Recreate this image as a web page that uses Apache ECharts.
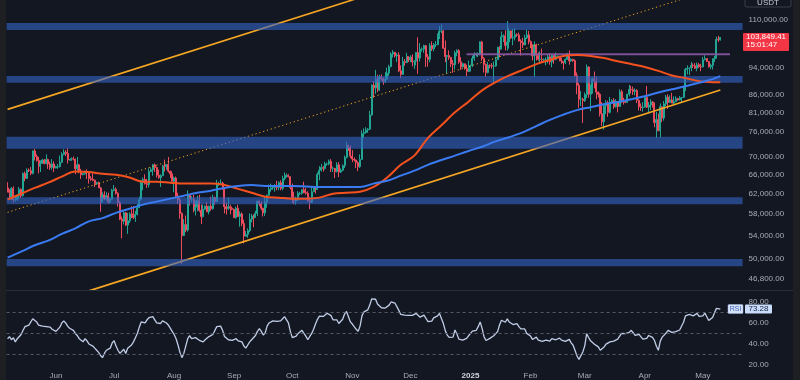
<!DOCTYPE html>
<html><head><meta charset="utf-8">
<script src="https://cdn.jsdelivr.net/npm/echarts@6/dist/echarts.min.js"></script>
<style>html,body{margin:0;padding:0;background:#131722;}#c{width:800px;height:380px;}</style>
</head><body><div id="c"></div>
<script>
// ---------- DATA (prices in thousands of USDT, daily candles from 2024-05-07) ----------
const firstDay = '2024-05-07';
const dayCount = 380; // axis days incl. empty right margin

const opens = [
63.2,62.3,61.2,63.1,60.8,60.8,61.5,62.9,61.6,66.3,65.2,67.0,66.9,66.3,71.4,70.1,69.2,67.9,68.5,69.3,68.5,69.4,68.4,67.6,68.4,
67.5,67.8,67.8,68.8,70.6,71.1,70.8,69.3,69.3,69.6,69.5,67.3,68.2,66.8,66.0,66.2,66.6,66.5,65.2,65.0,64.8,64.1,64.3,63.2,60.3,61.8,60.9,61.6,60.3,60.9,
62.7,62.9,62.1,60.2,57.0,56.6,58.2,55.9,56.7,58.0,57.7,57.3,57.9,59.2,60.8,64.7,65.0,64.1,63.9,66.7,67.1,68.2,67.6,65.9,65.4,65.8,67.9,67.8,68.3,66.8,66.2,
64.6,65.3,61.5,60.7,58.1,54.0,56.0,55.0,61.7,60.9,60.9,58.7,59.3,60.6,58.7,57.5,58.9,59.5,58.4,59.5,59.0,61.2,60.4,64.1,64.2,64.2,62.9,59.4,59.0,59.4,59.1,
58.9,57.3,59.1,57.5,58.0,56.2,53.9,54.2,54.9,57.0,57.6,57.3,58.1,60.5,60.0,59.1,58.2,60.3,61.7,62.9,63.2,63.3,63.6,63.3,64.3,63.1,65.2,65.8,65.9,65.6,
63.3,60.8,60.6,60.8,62.1,62.1,62.8,62.2,62.1,60.6,60.3,62.4,63.2,62.9,66.1,67.0,67.6,67.4,68.4,68.4,69.0,67.4,67.4,66.7,68.2,66.6,67.0,68.0,69.9,72.7,72.3,
70.2,69.5,69.3,68.7,67.8,69.4,75.6,75.9,76.5,76.7,80.4,88.7,87.9,90.5,87.3,91.1,90.6,89.8,90.5,92.3,94.3,98.3,98.9,97.7,98.0,93.0,91.9,95.9,95.6,97.5,
96.4,97.3,95.8,96.0,98.8,97.0,99.9,99.9,101.1,97.4,96.6,101.1,100.0,101.4,101.4,104.5,106.0,106.1,100.2,97.5,97.8,97.2,95.2,94.9,98.7,99.4,95.8,94.2,95.2,93.7,92.8,
93.6,94.6,96.9,98.1,98.2,98.3,102.3,96.9,95.0,92.5,94.7,94.6,94.5,94.5,96.5,100.5,99.9,104.1,104.4,101.1,102.3,106.1,103.7,103.9,104.8,104.7,102.6,102.1,101.3,103.7,104.7,
102.4,100.6,97.7,101.4,97.9,96.6,96.6,96.5,96.5,96.5,97.4,95.8,97.9,96.6,97.5,97.6,96.1,95.8,95.5,96.6,98.3,96.1,96.6,96.2,91.6,88.7,84.7,84.7,
84.3,86.0,94.2,86.1,87.2,90.6,89.9,86.7,86.1,80.7,78.6,82.9,83.7,81.1,83.9,84.3,82.6,84.0,82.7,86.8,84.2,84.0,83.8,86.1,87.5,87.4,86.9,87.2,84.4,82.6,82.4,
82.5,85.2,82.5,83.1,83.9,83.5,78.4,79.2,76.3,82.6,79.6,83.4,85.3,83.8,84.5,83.6,84.0,84.9,84.5,85.1,85.2,87.5,93.4,93.7,93.9,94.7,94.6,93.8,94.9,94.3,
94.2,96.5,96.9,95.9,94.3,94.7,96.8,97.0,103.2,103.0];

const highs = [
64.4,62.9,63.4,63.5,61.5,61.8,63.4,63.1,66.5,66.7,67.4,67.4,67.7,71.5,71.9,70.6,70.0,69.2,69.6,69.5,70.6,69.6,68.9,69.5,69.0,
68.0,68.4,70.3,71.1,71.8,71.6,72.0,69.5,69.9,70.1,69.6,70.0,68.4,67.3,66.4,66.9,67.2,66.6,65.7,66.4,65.0,64.5,64.5,63.4,62.3,62.5,62.3,62.2,61.2,63.0,
63.8,63.3,62.3,60.5,57.5,58.5,58.4,58.2,58.3,59.5,59.5,58.6,59.9,61.4,64.9,65.4,66.1,65.1,67.4,67.6,68.4,68.5,67.8,67.1,66.1,68.2,69.4,68.3,70.0,66.9,66.8,
65.6,65.6,62.2,61.1,58.3,57.0,57.7,62.7,61.8,61.5,61.8,60.7,61.6,61.8,59.8,59.8,59.6,60.3,59.6,61.4,61.8,61.4,64.9,64.5,65.0,64.5,63.2,60.2,61.2,59.8,59.4,
59.0,59.4,59.8,58.5,58.3,56.9,54.8,55.3,58.1,58.0,57.9,58.6,60.6,60.6,60.4,59.2,61.4,61.8,63.9,64.1,63.6,64.0,64.7,64.6,64.8,65.8,66.5,66.3,66.1,65.6,
64.1,62.4,61.4,62.5,62.4,62.9,64.5,63.2,62.5,61.3,63.4,63.5,63.3,66.5,67.9,68.4,67.9,68.9,68.7,69.4,69.5,67.8,67.5,68.8,68.8,67.4,68.3,70.3,73.6,72.9,72.7,
71.6,69.9,69.4,69.0,70.6,76.4,76.9,77.2,77.0,81.5,89.0,89.9,93.3,91.8,91.8,91.9,91.0,92.6,94.0,94.9,98.9,99.6,98.9,98.6,98.9,94.7,97.4,96.7,98.7,97.5,
97.9,98.2,96.3,99.0,103.9,101.9,100.5,101.4,101.2,98.3,101.9,102.5,101.9,102.6,105.2,107.8,108.4,106.5,102.8,98.0,99.5,97.4,96.4,99.4,99.9,99.9,97.3,95.5,95.2,94.9,96.2,
94.9,97.8,98.9,98.7,98.8,102.5,102.7,97.3,95.3,95.8,95.0,95.4,95.9,97.4,100.7,100.9,105.9,104.9,106.3,109.6,107.2,106.3,106.8,107.1,105.3,105.5,103.2,103.7,104.8,106.5,106.1,
102.8,101.5,102.5,101.7,98.8,99.2,100.1,96.9,97.3,98.3,98.5,98.1,98.0,98.8,97.9,97.7,97.0,96.0,96.9,98.7,99.5,96.9,96.8,96.6,92.5,89.3,87.0,85.1,
86.6,95.0,94.4,88.9,91.0,92.8,91.2,86.9,86.5,83.9,83.6,84.4,84.3,85.3,84.7,85.0,84.7,84.0,87.5,87.4,85.1,84.5,86.2,88.8,88.5,88.3,87.8,87.5,84.6,83.5,83.9,
85.5,88.5,83.9,84.7,84.2,83.8,81.2,80.8,83.5,82.7,84.2,85.9,86.1,85.8,86.5,85.5,85.5,85.1,85.6,85.3,88.5,93.9,94.7,94.0,95.8,95.3,95.4,95.6,95.5,95.2,
97.4,97.9,96.9,96.0,95.2,96.9,97.7,104.1,104.4,104.0];

const lows = [
62.3,60.9,60.7,60.2,60.4,60.6,60.9,61.1,61.4,64.6,65.1,66.6,65.9,66.1,69.2,68.9,66.3,66.6,68.5,68.3,68.3,67.3,67.1,67.1,66.6,
67.4,67.3,67.6,68.6,70.4,70.2,68.5,69.2,69.1,69.2,66.1,66.9,66.3,65.1,65.9,66.0,65.1,64.1,64.7,64.6,63.4,63.9,63.2,58.4,60.3,60.7,60.6,60.0,60.2,60.7,
62.5,61.8,59.4,56.8,53.5,56.0,55.7,54.3,56.3,57.2,57.0,56.5,57.7,59.2,60.6,62.7,63.9,63.2,63.3,66.6,65.8,66.6,65.4,65.1,63.4,65.8,66.7,67.1,66.5,65.3,64.5,
62.3,61.1,59.9,57.1,49.1,53.9,54.6,54.7,59.6,60.3,58.3,57.7,58.5,58.4,56.1,57.3,58.8,58.4,57.9,58.6,58.8,59.8,60.4,63.6,63.8,62.8,58.1,57.9,58.8,57.9,58.7,
57.2,57.1,57.4,55.6,55.7,52.6,53.8,53.6,54.6,56.4,55.5,57.3,57.6,59.5,58.7,57.5,57.6,59.2,61.6,62.4,62.8,62.4,62.7,62.7,62.7,62.7,64.8,65.4,65.4,62.9,
60.1,59.9,59.8,60.5,61.7,61.8,62.1,61.8,60.3,58.9,60.1,62.4,62.0,62.8,64.8,66.7,66.7,67.1,68.0,68.1,66.6,66.6,65.3,66.5,65.5,66.4,66.8,67.5,69.7,71.4,69.7,
68.8,69.0,67.5,66.8,67.5,69.4,74.5,75.6,75.8,76.5,80.2,85.1,86.2,86.7,87.1,90.1,88.8,89.4,90.2,91.5,94.1,97.2,97.2,95.8,92.6,90.8,91.8,94.6,95.4,95.7,
95.7,94.4,93.6,94.7,92.1,95.9,99.1,98.7,94.2,94.3,95.7,99.3,99.2,100.6,101.2,103.3,105.3,100.0,95.7,92.2,96.4,94.2,92.4,93.4,97.6,95.2,93.3,94.0,93.3,91.4,92.6,
92.8,94.2,96.1,97.5,97.3,97.9,96.1,92.5,91.2,92.2,93.8,93.7,89.3,94.3,96.5,97.3,99.9,102.3,99.5,99.4,100.1,103.3,101.2,102.8,104.1,102.5,97.8,100.3,101.3,103.3,101.5,
100.3,96.2,91.2,96.2,96.2,95.7,95.7,95.7,94.7,95.3,94.9,94.1,95.2,96.3,97.2,96.0,95.2,93.4,95.1,96.4,94.9,95.9,95.8,91.2,86.1,82.3,82.8,78.3,
83.9,85.0,85.1,81.4,86.3,87.8,84.7,85.2,80.0,77.5,76.6,80.6,79.9,80.8,83.6,82.0,82.4,81.1,82.6,83.6,83.2,83.6,83.7,85.5,86.3,85.9,85.8,83.6,81.6,81.5,81.3,
82.4,82.3,81.2,81.7,82.4,77.2,74.5,76.2,74.6,78.5,78.9,82.8,82.0,83.7,83.6,83.1,83.9,84.3,84.3,83.9,85.1,87.0,91.9,91.7,92.9,93.9,93.6,92.9,93.9,92.9,
94.1,96.3,95.7,94.0,93.5,93.4,95.8,96.9,102.3,102.8];

const closes = [
62.3,61.2,63.1,60.8,60.8,61.5,62.9,61.6,66.3,65.2,67.0,66.9,66.3,71.4,70.1,69.2,67.9,68.5,69.3,68.5,69.4,68.4,67.6,68.4,67.5,
67.8,67.8,68.8,70.6,71.1,70.8,69.3,69.3,69.6,69.5,67.3,68.2,66.8,66.0,66.2,66.6,66.5,65.2,65.0,64.8,64.1,64.3,63.2,60.3,61.8,60.9,61.6,60.3,60.9,62.7,
62.9,62.1,60.2,57.0,56.6,58.2,55.9,56.7,58.0,57.7,57.3,57.9,59.2,60.8,64.7,65.0,64.1,63.9,66.7,67.1,68.2,67.6,65.9,65.4,65.8,67.9,67.8,68.3,66.8,66.2,64.6,
65.3,61.5,60.7,58.1,54.0,56.0,55.0,61.7,60.9,60.9,58.7,59.3,60.6,58.7,57.5,58.9,59.5,58.4,59.5,59.0,61.2,60.4,64.1,64.2,64.2,62.9,59.4,59.0,59.4,59.1,58.9,
57.3,59.1,57.5,58.0,56.2,53.9,54.2,54.9,57.0,57.6,57.3,58.1,60.5,60.0,59.1,58.2,60.3,61.7,62.9,63.2,63.3,63.6,63.3,64.3,63.1,65.2,65.8,65.9,65.6,63.3,
60.8,60.6,60.8,62.1,62.1,62.8,62.2,62.1,60.6,60.3,62.4,63.2,62.9,66.1,67.0,67.6,67.4,68.4,68.4,69.0,67.4,67.4,66.7,68.2,66.6,67.0,68.0,69.9,72.7,72.3,70.2,
69.5,69.3,68.7,67.8,69.4,75.6,75.9,76.5,76.7,80.4,88.7,87.9,90.5,87.3,91.1,90.6,89.8,90.5,92.3,94.3,98.3,98.9,97.7,98.0,93.0,91.9,95.9,95.6,97.5,96.4,
97.3,95.8,96.0,98.8,97.0,99.9,99.9,101.1,97.4,96.6,101.1,100.0,101.4,101.4,104.5,106.0,106.1,100.2,97.5,97.8,97.2,95.2,94.9,98.7,99.4,95.8,94.2,95.2,93.7,92.8,93.6,
94.6,96.9,98.1,98.2,98.3,102.3,96.9,95.0,92.5,94.7,94.6,94.5,94.5,96.5,100.5,99.9,104.1,104.4,101.1,102.3,106.1,103.7,103.9,104.8,104.7,102.6,102.1,101.3,103.7,104.7,102.4,
100.6,97.7,101.4,97.9,96.6,96.6,96.5,96.5,96.5,97.4,95.8,97.9,96.6,97.5,97.6,96.1,95.8,95.5,96.6,98.3,96.1,96.6,96.2,91.6,88.7,84.7,84.7,84.3,
86.0,94.2,86.1,87.2,90.6,89.9,86.7,86.1,80.7,78.6,82.9,83.7,81.1,83.9,84.3,82.6,84.0,82.7,86.8,84.2,84.0,83.8,86.1,87.5,87.4,86.9,87.2,84.4,82.6,82.4,82.5,
85.2,82.5,83.1,83.9,83.5,78.4,79.2,76.3,82.6,79.6,83.4,85.3,83.8,84.5,83.6,84.0,84.9,84.5,85.1,85.2,87.5,93.4,93.7,93.9,94.7,94.6,93.8,94.9,94.3,94.2,
96.5,96.9,95.9,94.3,94.7,96.8,97.0,103.2,103.0,103.84941];

// moving averages, read once per week (every 7th day from the first candle; last value = last candle)
const ma100Weekly = [60.8,62.0,63.2,64.3,65.6,66.7,66.6,66.2,66.0,65.4,64.5,64.5,64.3,64.1,64.1,64.1,63.8,63.0,62.2,61.4,61.2,61.0,61.0,61.2,62.0,62.2,62.4,63.4,65.4,68.2,70.3,74.5,77.7,81.1,84.0,87.2,89.6,91.6,93.3,95.1,96.4,97.7,98.0,97.7,97.0,96.0,95.1,94.2,93.0,91.6,90.8,89.9,89.6,89.6];
const ma200Weekly = [50.2,51.2,52.3,53.1,54.3,55.3,56.6,57.2,58.2,59.0,59.8,60.4,61.0,61.6,62.2,62.6,63.2,63.6,63.8,63.6,63.6,63.6,63.5,63.4,63.4,63.4,63.4,64.1,64.7,65.8,66.9,68.2,69.3,70.3,71.4,72.4,73.7,74.7,75.9,77.5,79.1,80.5,81.7,82.5,83.3,83.9,84.7,85.5,86.6,87.5,88.4,89.4,90.5,91.4];

// RSI(14), one value per candle
const rsi = [
45,47,44,46,42,45,44,49,53,56.5, 55,58,59,64,63,61,58,58.5,57,58.5,
56.5,55,56,54,53,52,53,56,60,62, 60,57,55,56,53,50,48,45,44,42,
45,43,40,39.5,38,36,34,32,29,27, 31,34,32.5,36,41,43,38,34,31,32,
35,31,36,36,39,42,46,50,56,61, 62,60,63,65,66,66,63,60,61,59.5,
62,62,60,58,55,52,49,45,39,32, 27,31,38,45,48,45,44,46,45,43.5,
44,42,44,45.5,47,46.5,49,50.5,56.5,58, 57,53,47,46,44,45,43.5,43,45,43,
44,42,38,36,39,42,44,45,48,52, 54.5,52,48.5,50.5,57,60,61,62,62.3,61.5,
62.5,62,64,66,65.5,60,52,46,45.3,47.5, 50,51.7,53,50,47.5,44,45,50,54,59,
63.5,66.5,67.5,66.2,67,69.2,69,67,63,61.5, 63,59.5,59.5,63.5,68.5,71,66,61,59,57.5,
54,52,57,67,70.5,71,72.5,77,83,83.8, 82.6,78,76.5,74.5,75.8,74.2,74.5,77,80,81.5,
79,77.5,72,68.1,69.1,67.5,66.2,67.2,67.6,67.2, 67.5,69.1,67.5,65.5,66.8,67.5,66.5,61.4,62.6,61.7,
64.9,65.9,66.8,69.1,70.0,59.4,52.7,48.5,46.2,44.6, 46.5,53.3,49.4,44.6,43.0,43.7,43.3,45.3,47.8,49.4,
52.3,52.3,53.0,56.5,61.0,54.9,46.9,43.3,42.7,45.3, 46.9,47.8,49.1,51.7,58.1,62.6,63.3,60.7,63.9,61.0,
60.7,58.5,59.7,59.4,56.5,54.3,56.2,54.3,50.1,51.4, 47.5,44.3,45.3,46.5,43.6,42.0,42.4,42.7,43.6,42.4,
42.7,45.0,43.3,44.0,45.9,45.6,43.6,43.0,42.4,44.3, 44.3,41.1,38.8,33.7,28.5,25.3,25.9,32.4,38.2,49.8,
46.2,43.0,41.1,39.8,40.1,37.2,34.0,33.0,37.2,39.8, 39.1,42.0,40.4,42.7,44.3,44.6,46.5,50.1,48.8,49.8,
48.8,51.0,53.0,50.7,48.1,47.2,49.1,48.1,44.6,46.5, 45.3,48.1,46.2,46.2,43.3,37.8,34.0,42.7,46.5,47.5,
50.4,53.0,51.7,51.0,51.7,51.7,52.3,53.3,53.9,60.7, 66.8,68.4,68.1,68.4,66.8,67.8,69.1,66.2,65.5,66.8,
69.4,65.9,62.3,61.4,65.2,69.7,73.9,75.8,73.28];

// drawn annotations: [date, price]
const upperChannel = [['2024-05-07', 81.9], ['2024-11-13', 120.4]];
const midChannel   = [['2024-05-07', 58.3], ['2025-05-21', 125.4]];
const lowerChannel = [['2024-05-29', 43.2], ['2025-05-10', 87.3]];
const resistance   = [['2024-12-30', 98.2], ['2025-05-15', 98.2]];
const zones = [[106.4, 108.9], [89.4, 91.4], [71.9, 74.8], [59.9, 61.3], [48.8, 50.0]];

const priceTicks = [110, 94, 86, 81, 76, 70, 66, 62, 58, 54, 50, 46.8];
const rsiTicks = [20, 40, 60, 80];
const rsiLevels = [70, 50, 30];
const lastPrice = 103.84941, countdown = '15:01:47', lastRsi = 73.28, quote = 'USDT';
const monthNames = ['Jan','Feb','Mar','Apr','May','Jun','Jul','Aug','Sep','Oct','Nov','Dec'];

// ---------- BUILD ----------
const dates = [];
const t0 = Date.parse(firstDay + 'T00:00:00Z');
for (let k = 0; k < dayCount; k++) dates.push(new Date(t0 + k * 86400000).toISOString().slice(0, 10));
const candleData = closes.map((c, i) => [opens[i], c, lows[i], highs[i]]);
const lastIdx = closes.length - 1;
const weekly = arr => arr.map((v, k) => [dates[Math.min(k * 7, lastIdx)], v]);
const fmtPrice = v => (Math.round(v * 100000) / 100).toLocaleString('en-US', {minimumFractionDigits: 2, maximumFractionDigits: 2});

const FONT = "'Liberation Sans', Arial, sans-serif";
const LBL = '#a9acb5';
const UP = '#22a592', DOWN = '#eb4d5c';
const chart = echarts.init(document.getElementById('c'), null, {renderer: 'canvas'});
const option = {
  backgroundColor: '#131722',
  animation: false,
  textStyle: {fontFamily: FONT},
  grid: [
    {left: 6.6, right: 57.4, top: 0, height: 290},
    {left: 6.6, right: 57.4, top: 290, height: 78}
  ],
  xAxis: [
    {type: 'category', gridIndex: 0, data: dates, boundaryGap: true,
     axisLine: {show: false}, axisTick: {show: false}, axisLabel: {show: false}, splitLine: {show: false}},
    {type: 'category', gridIndex: 1, data: dates, boundaryGap: true,
     axisLine: {show: false}, axisTick: {show: false}, splitLine: {show: false},
     axisLabel: {show: true, interval: (i, v) => v.slice(8) === '01', hideOverlap: false,
       color: LBL, fontSize: 8, margin: 4, fontFamily: FONT,
       formatter: v => { const m = +v.slice(5, 7); return m === 1 ? '{y|' + v.slice(0, 4) + '}' : monthNames[m - 1]; },
       rich: {y: {fontWeight: 'bold', color: '#d1d4dc', fontSize: 8, fontFamily: FONT}}}}
  ],
  yAxis: [
    {type: 'log', gridIndex: 0, position: 'right', min: 45.12, max: 117.5, logBase: 10,
     axisLine: {show: false}, axisTick: {show: false}, splitLine: {show: false},
     axisLabel: {customValues: priceTicks, formatter: v => fmtPrice(v), color: LBL, fontSize: 8, margin: 6, align: 'left', fontFamily: FONT}},
    {type: 'value', gridIndex: 1, position: 'right', min: 17.1, max: 91.4,
     axisLine: {show: false}, axisTick: {show: false}, splitLine: {show: false},
     axisLabel: {customValues: rsiTicks, formatter: v => v.toFixed(2), color: LBL, fontSize: 8, margin: 6, align: 'left', fontFamily: FONT}}
  ],
  series: [
    {name: 'BTCUSDT', type: 'candlestick', xAxisIndex: 0, yAxisIndex: 0, z: 2, barWidth: 1.5,
     data: candleData,
     itemStyle: {color: UP, color0: DOWN, borderColor: UP, borderColor0: DOWN, borderWidth: 1}},
    {name: 'upper', type: 'line', xAxisIndex: 0, yAxisIndex: 0, z: 3, symbol: 'none', data: upperChannel,
     lineStyle: {color: '#f5a623', width: 1.6}},
    {name: 'mid', type: 'line', xAxisIndex: 0, yAxisIndex: 0, z: 3, symbol: 'none', data: midChannel,
     lineStyle: {color: '#f5a623', width: 1, type: [1.2, 2.8]}},
    {name: 'lower', type: 'line', xAxisIndex: 0, yAxisIndex: 0, z: 3, symbol: 'none', data: lowerChannel,
     lineStyle: {color: '#f5a623', width: 1.8}},
    {name: 'resistance', type: 'line', xAxisIndex: 0, yAxisIndex: 0, z: 3, symbol: 'none', data: resistance,
     lineStyle: {color: '#8e5ba8', width: 2, opacity: 0.85}},
    {name: 'zones', type: 'line', xAxisIndex: 0, yAxisIndex: 0, z: 4, data: [],
     markArea: {silent: true, z: 4, itemStyle: {color: 'rgba(52,100,200,0.6)'},
       data: zones.map(([a, b]) => [{yAxis: a}, {yAxis: b}])}},
    {name: 'MA100', type: 'line', xAxisIndex: 0, yAxisIndex: 0, z: 5, symbol: 'none', smooth: 0.35,
     data: weekly(ma100Weekly), lineStyle: {color: '#f4511e', width: 2}},
    {name: 'MA200', type: 'line', xAxisIndex: 0, yAxisIndex: 0, z: 5, symbol: 'none', smooth: 0.35,
     data: weekly(ma200Weekly), lineStyle: {color: '#3a7bf2', width: 2}},
    {name: 'RSI', type: 'line', xAxisIndex: 1, yAxisIndex: 1, z: 3, symbol: 'none',
     data: rsi, lineStyle: {color: '#c0cde6', width: 1.3},
     markLine: {silent: true, symbol: 'none', label: {show: false},
       lineStyle: {color: '#555965', type: [3, 3], width: 1},
       data: rsiLevels.map(v => ({yAxis: v}))}}
  ]
};
chart.setOption(option);

const yTag = chart.convertToPixel({yAxisIndex: 0}, lastPrice);
const yR = chart.convertToPixel({yAxisIndex: 1}, lastRsi);
chart.setOption({graphic: [
  {type: 'rect', shape: {x: 0, y: 0, width: 6, height: 380}, style: {fill: '#1e1f23'}, z: 10},
  {type: 'rect', shape: {x: 793, y: 0, width: 7, height: 380}, style: {fill: '#1e1f23'}, z: 10},
  {type: 'line', shape: {x1: 6, y1: 290.5, x2: 793, y2: 290.5}, style: {stroke: '#2a2e39', lineWidth: 1}, z: 10},
  {type: 'rect', shape: {x: 745, y: -8, width: 46, height: 15, r: 2}, style: {fill: '#131722', stroke: '#3a3e4a', lineWidth: 1}, z: 10},
  {type: 'text', x: 768, y: 2.5, style: {text: quote, fill: '#c9ccd4', font: '8px ' + FONT, align: 'center', verticalAlign: 'middle'}, z: 11},
  {type: 'rect', shape: {x: 743, y: yTag - 4.5, width: 46, height: 18, r: 1}, style: {fill: '#f23645'}, z: 10},
  {type: 'text', x: 746, y: yTag - 0.5, style: {text: fmtPrice(lastPrice), fill: '#ffffff', font: '8px ' + FONT, verticalAlign: 'middle'}, z: 11},
  {type: 'text', x: 746, y: yTag + 7.5, style: {text: countdown, fill: '#ffffff', font: '8px ' + FONT, verticalAlign: 'middle'}, z: 11},
  {type: 'rect', shape: {x: 728, y: yR - 4.5, width: 15, height: 9, r: 1}, style: {fill: '#d6e2f7', stroke: '#9fb6e0', lineWidth: 0.5}, z: 10},
  {type: 'text', x: 735.5, y: yR, style: {text: 'RSI', fill: '#3f63b8', font: '7px ' + FONT, align: 'center', verticalAlign: 'middle'}, z: 11},
  {type: 'rect', shape: {x: 745, y: yR - 4.5, width: 27, height: 9, r: 1}, style: {fill: '#c9dcfa'}, z: 10},
  {type: 'text', x: 758.5, y: yR, style: {text: lastRsi.toFixed(2), fill: '#1a2440', font: '8px ' + FONT, align: 'center', verticalAlign: 'middle'}, z: 11}
]});
</script></body></html>
